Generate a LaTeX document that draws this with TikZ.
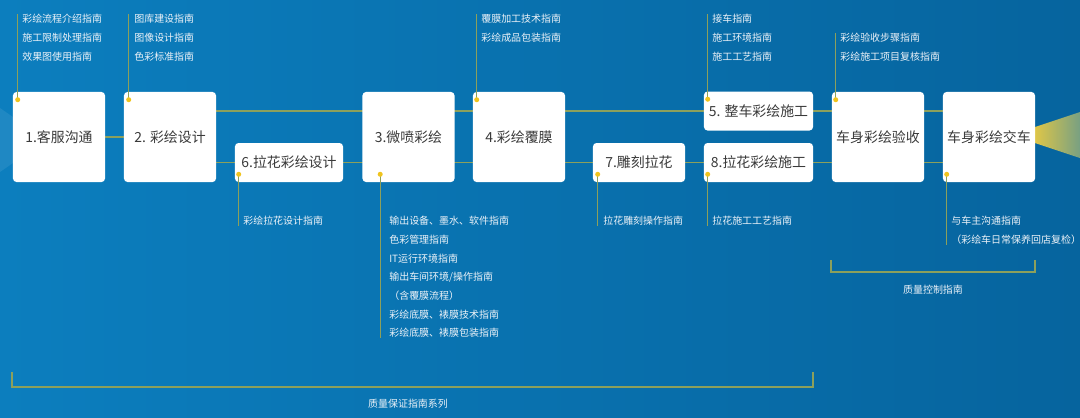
\documentclass[tikz,border=0pt]{standalone}
\usepackage{fontspec}
\setmainfont{Noto Sans CJK SC}
\usetikzlibrary{calc}

\definecolor{bgleft}{RGB}{12,126,190}
\definecolor{bgright}{RGB}{6,100,158}
\definecolor{linkcol}{RGB}{140,160,92}
\definecolor{dotcol}{RGB}{240,196,30}
\definecolor{boxtext}{RGB}{58,58,58}
\definecolor{notetext}{RGB}{236,242,248}
\definecolor{fanyellow}{RGB}{222,198,72}
\definecolor{fanend}{RGB}{120,160,130}

\pgfdeclarelayer{bg}
\pgfdeclarelayer{wires}
\pgfsetlayers{bg,wires,main}

\begin{document}
\begin{tikzpicture}[x=0.025cm, y=-0.025cm,
    bigbox/.style={fill=white, rounded corners=2.5pt, minimum width=2.3cm, minimum height=2.25cm, inner sep=0pt, font=\fontsize{9.9}{12}\selectfont, text=boxtext},
    smallbox/.style={bigbox, minimum height=0.975cm},
    note/.style={anchor=north west, inner sep=0pt, align=left, text=notetext, font=\fontsize{7.1}{13.3}\selectfont},
    link/.style={draw=linkcol, line width=0.85pt},
    lead/.style={draw=linkcol, line width=0.6pt},
    dot/.style={fill=dotcol},
    brk/.style={draw=linkcol, line width=1pt}
]
\useasboundingbox (0,0) rectangle (1080,417);
\begin{pgfonlayer}{bg}
  \shade[left color=bgleft, right color=bgright] (0,0) rectangle (1080,417);
  \fill[white, opacity=0.08] (0,108) -- (13,117) -- (13,163) -- (0,172) -- cycle;
  \shade[left color=fanyellow, right color=fanend] (1035,127) -- (1080,112) -- (1080,158) -- (1035,143) -- cycle;
\end{pgfonlayer}

% process steps
\node[bigbox] (b1) at (59,137) {1.客服沟通};
\node[bigbox] (b2) at (170,137) {2. 彩绘设计};
\node[smallbox, minimum width=2.7cm] (b6) at (289,162.5) {6.拉花彩绘设计};
\node[bigbox] (b3) at (408.5,137) {3.微喷彩绘};
\node[bigbox] (b4) at (519,137) {4.彩绘覆膜};
\node[smallbox] (b7) at (639,162.5) {7.雕刻拉花};
\node[smallbox, minimum width=2.725cm] (b5) at (758.5,111) {5. 整车彩绘施工};
\node[smallbox, minimum width=2.725cm] (b8) at (758.5,162.5) {8.拉花彩绘施工};
\node[bigbox] (ys) at (878,137) {车身彩绘验收};
\node[bigbox] (jc) at (989,137) {车身彩绘交车};

\begin{pgfonlayer}{wires}
  \draw[link] (b1) -- (b2);
  \draw[link] (b2.east |- b5) -- (ys.west |- b5);
  \draw[link] (b2.east |- b6) -- (ys.west |- b6);
  \draw[link] (ys.east |- b5) -- (jc.west |- b5);
  \draw[link] (ys.east |- b6) -- (jc.west |- b6);
\end{pgfonlayer}

% guide notes
\coordinate (d1) at ([shift={(5,8)}]b1.north west);
\coordinate (d2) at ([shift={(5,8)}]b2.north west);
\coordinate (d4) at ([shift={(4,8)}]b4.north west);
\coordinate (d5) at ([shift={(4,8)}]b5.north west);
\coordinate (dys) at ([shift={(4,8)}]ys.north west);
\coordinate (d6) at ([shift={(4,-8)}]b6.south west);
\coordinate (d3) at ([shift={(18,-8)}]b3.south west);
\coordinate (d7) at ([shift={(5,-8)}]b7.south west);
\coordinate (d8) at ([shift={(4,-8)}]b8.south west);
\coordinate (djc) at ([shift={(4,-8)}]jc.south west);

\node[note] (n1) at (22,14) {彩绘流程介绍指南\\施工限制处理指南\\效果图使用指南};
\node[note] (n2) at (134,14) {图库建设指南\\图像设计指南\\色彩标准指南};
\node[note] (n4) at (481,14) {覆膜加工技术指南\\彩绘成品包装指南};
\node[note] (n5) at (712,14) {接车指南\\施工环境指南\\施工工艺指南};
\node[note] (nys) at (840,33) {彩绘验收步骤指南\\彩绘施工项目复核指南};
\node[note] (n6) at (243,216) {彩绘拉花设计指南};
\node[note] (n3) at (389,216) {输出设备、墨水、软件指南\\色彩管理指南\\IT运行环境指南\\输出车间环境/操作指南\\（含覆膜流程）\\彩绘底膜、裱膜技术指南\\彩绘底膜、裱膜包装指南};
\node[note] (n7) at (603,216) {拉花雕刻操作指南};
\node[note] (n8) at (712,216) {拉花施工工艺指南};
\node[note] (njc) at (951,216) {与车主沟通指南\\（彩绘车日常保养回店复检）};

\foreach \d/\n in {d1/n1, d2/n2, d4/n4, d5/n5, dys/nys}
  \draw[lead] (\d) -- (\d |- \n.north);
\foreach \d/\n in {d6/n6, d3/n3, d7/n7, d8/n8, djc/njc}
  \draw[lead] (\d) -- (\d |- \n.south);
\foreach \d in {d1, d2, d4, d5, dys, d6, d3, d7, d8, djc}
  \fill[dot] (\d) circle (1.8pt);

% quality brackets
\draw[brk] (831,260) |- (1035,272) -- (1035,260);
\node[note, anchor=center] (qc) at (933,290) {质量控制指南};
\draw[brk] (12,372) |- (813,387) -- (813,372);
\node[note, anchor=center] (qa) at (408,404) {质量保证指南系列};
\end{tikzpicture}
\end{document}
